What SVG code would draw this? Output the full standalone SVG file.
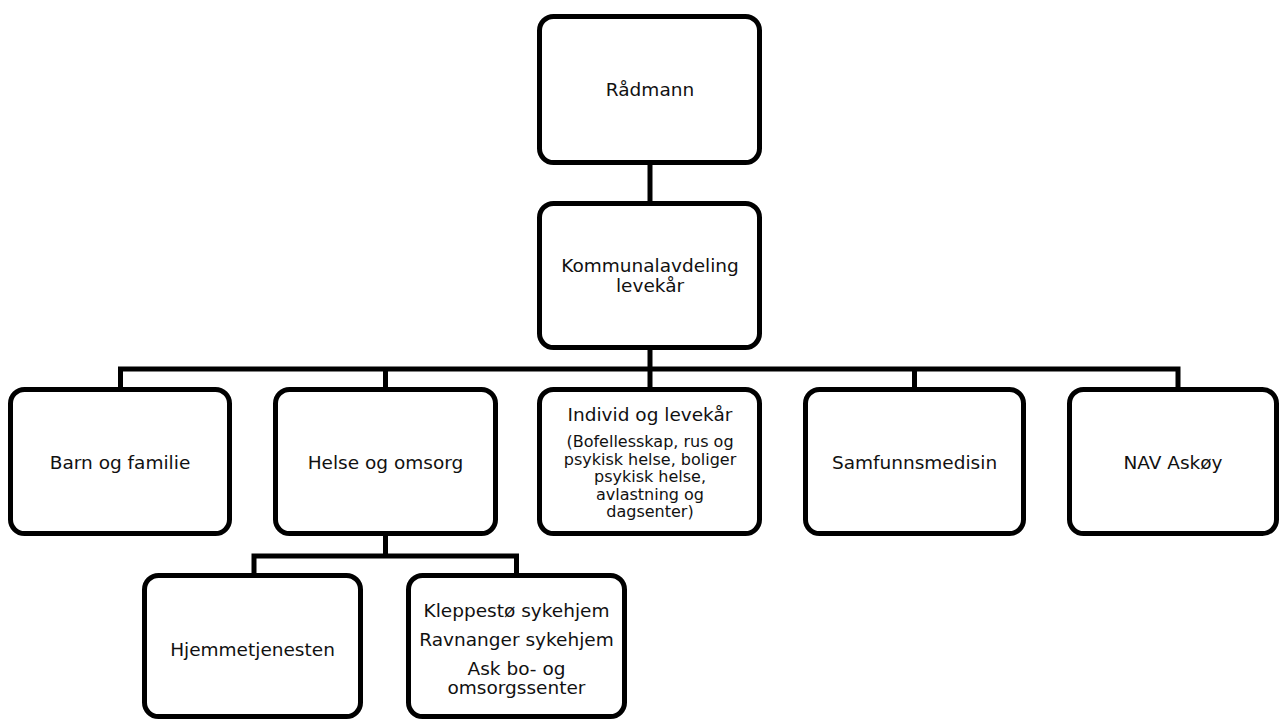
<svg xmlns="http://www.w3.org/2000/svg" width="1280" height="720" viewBox="0 0 1280 720">
<style>
.box{fill:#fff;stroke:#000;stroke-width:5}
.con{fill:none;stroke:#000;stroke-width:5;stroke-linejoin:miter}
text{font-family:"DejaVu Sans",Verdana,sans-serif;font-size:18.5px;fill:#111;text-anchor:middle}
.sm{font-size:16px}
</style>
<rect width="1280" height="720" fill="#fff"/>
<g id="connectors">
<path class="con" d="M650,162 V204"/>
<path class="con" d="M650,347 V369"/>
<path class="con" d="M120.5,390 V369 H1178 V390"/>
<path class="con" d="M385.5,369 V390"/>
<path class="con" d="M650,369 V390"/>
<path class="con" d="M914.5,369 V390"/>
<path class="con" d="M385.5,533 V556"/>
<path class="con" d="M254,576 V556 H516.5 V576"/>
</g>
<g id="radmann">
<rect class="box" x="539.5" y="16.5" width="220" height="146" rx="14"/>
<text x="650" y="96">Rådmann</text>
</g>
<g id="kommunalavdeling">
<rect class="box" x="539.5" y="203.5" width="220" height="144" rx="14"/>
<text x="650" y="272">Kommunalavdeling</text>
<text x="650" y="292">levekår</text>
</g>
<g id="barn">
<rect class="box" x="10.5" y="389.5" width="219" height="144" rx="14"/>
<text x="120" y="469">Barn og familie</text>
</g>
<g id="helse">
<rect class="box" x="275.5" y="389.5" width="220" height="144" rx="14"/>
<text x="385.5" y="469">Helse og omsorg</text>
</g>
<g id="individ">
<rect class="box" x="539.5" y="389.5" width="220" height="144" rx="14"/>
<text x="650" y="421">Individ og levekår</text>
<text class="sm" x="650" y="447">(Bofellesskap, rus og</text>
<text class="sm" x="650" y="464.5">psykisk helse, boliger</text>
<text class="sm" x="650" y="482">psykisk helse,</text>
<text class="sm" x="650" y="499.5">avlastning og</text>
<text class="sm" x="650" y="517">dagsenter)</text>
</g>
<g id="samfunnsmedisin">
<rect class="box" x="805.5" y="389.5" width="218" height="144" rx="14"/>
<text x="914.5" y="469">Samfunnsmedisin</text>
</g>
<g id="nav">
<rect class="box" x="1069.5" y="389.5" width="207" height="144" rx="14"/>
<text x="1173" y="469">NAV Askøy</text>
</g>
<g id="hjemmetjenesten">
<rect class="box" x="144.5" y="575.5" width="216" height="141" rx="14"/>
<text x="252.5" y="656">Hjemmetjenesten</text>
</g>
<g id="sykehjem">
<rect class="box" x="408.5" y="575.5" width="216" height="141" rx="14"/>
<text x="516.5" y="617">Kleppestø sykehjem</text>
<text x="516.5" y="646">Ravnanger sykehjem</text>
<text x="516.5" y="675">Ask bo- og</text>
<text x="516.5" y="694">omsorgssenter</text>
</g>
</svg>
